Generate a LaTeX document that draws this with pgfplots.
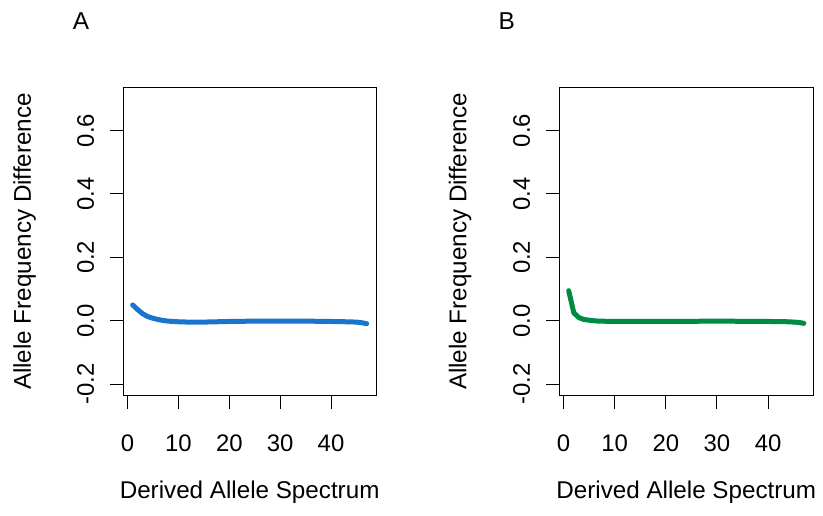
\documentclass[border=0pt]{standalone}
\usepackage{pgfplots}
\pgfplotsset{compat=1.18}
\usepackage{fontspec}
\setmainfont{Liberation Sans}
\definecolor{rblue}{RGB}{24,116,205}
\definecolor{rgreen}{RGB}{0,139,69}
\begin{document}
\begin{tikzpicture}
\useasboundingbox (0,0) rectangle (823bp,516bp);
\pgfplotsset{
  rstyle/.style={
    scale only axis,
    height=308.4bp,
    xmin=-0.84, xmax=48.84,
    ymin=-0.236, ymax=0.736,
    xtick={0,10,20,30,40},
    ytick={-0.2,0,0.2,0.4,0.6},
    yticklabels={-0.2,0.0,0.2,0.4,0.6},
    tick align=outside,
    xtick pos=bottom, ytick pos=left,
    major tick length=13bp,
    axis line style={line width=1bp},
    every tick/.style={line width=1bp, black},
    /pgf/number format/assume math mode=true,
    tick label style={font=\fontsize{24}{28}\selectfont, inner sep=0pt},
    xticklabel style={anchor=north},
    xticklabel shift=26bp,
    yticklabel style={rotate=90, anchor=south},
    yticklabel shift=16bp,
    label style={font=\fontsize{24.3}{28}\selectfont, inner sep=0pt},
    xlabel style={at={(axis description cs:0.5,-0.334)}, anchor=base},
    ylabel style={at={(axis description cs:-0.366,0.5)}, anchor=base, rotate=0},
    xlabel={Derived Allele Spectrum},
    ylabel={Allele Frequency Difference},
  }
}
\begin{axis}[rstyle, width=252.7bp, at={(123.3bp,120.3bp)}, anchor=south west]
\addplot[rblue, line width=5bp, line join=round, line cap=round] coordinates {
(1,0.050) (2,0.035) (3,0.022) (4,0.013) (5,0.008) (6,0.004) (7,0.001) (8,-0.001) (9,-0.002) (10,-0.003)
(12,-0.004) (15,-0.004) (20,-0.002) (25,-0.001) (30,-0.001) (35,-0.001) (40,-0.002) (43,-0.003) (45,-0.004) (46,-0.006) (47,-0.009)
};
\end{axis}
\begin{axis}[rstyle, width=254bp, at={(559.3bp,120.3bp)}, anchor=south west]
\addplot[rgreen, line width=5bp, line join=round, line cap=round] coordinates {
(1,0.095) (2,0.025) (3,0.010) (4,0.004) (5,0.002) (6,0.000) (7,-0.001) (10,-0.002) (20,-0.002) (30,-0.001) (40,-0.002) (44,-0.003) (46,-0.005) (47,-0.008)
};
\end{axis}
\node[anchor=base west, inner sep=0pt, font=\fontsize{24.5}{28}\selectfont] at (72.7bp,486bp) {A};
\node[anchor=base west, inner sep=0pt, font=\fontsize{24.5}{28}\selectfont] at (498.3bp,486bp) {B};
\end{tikzpicture}
\end{document}
